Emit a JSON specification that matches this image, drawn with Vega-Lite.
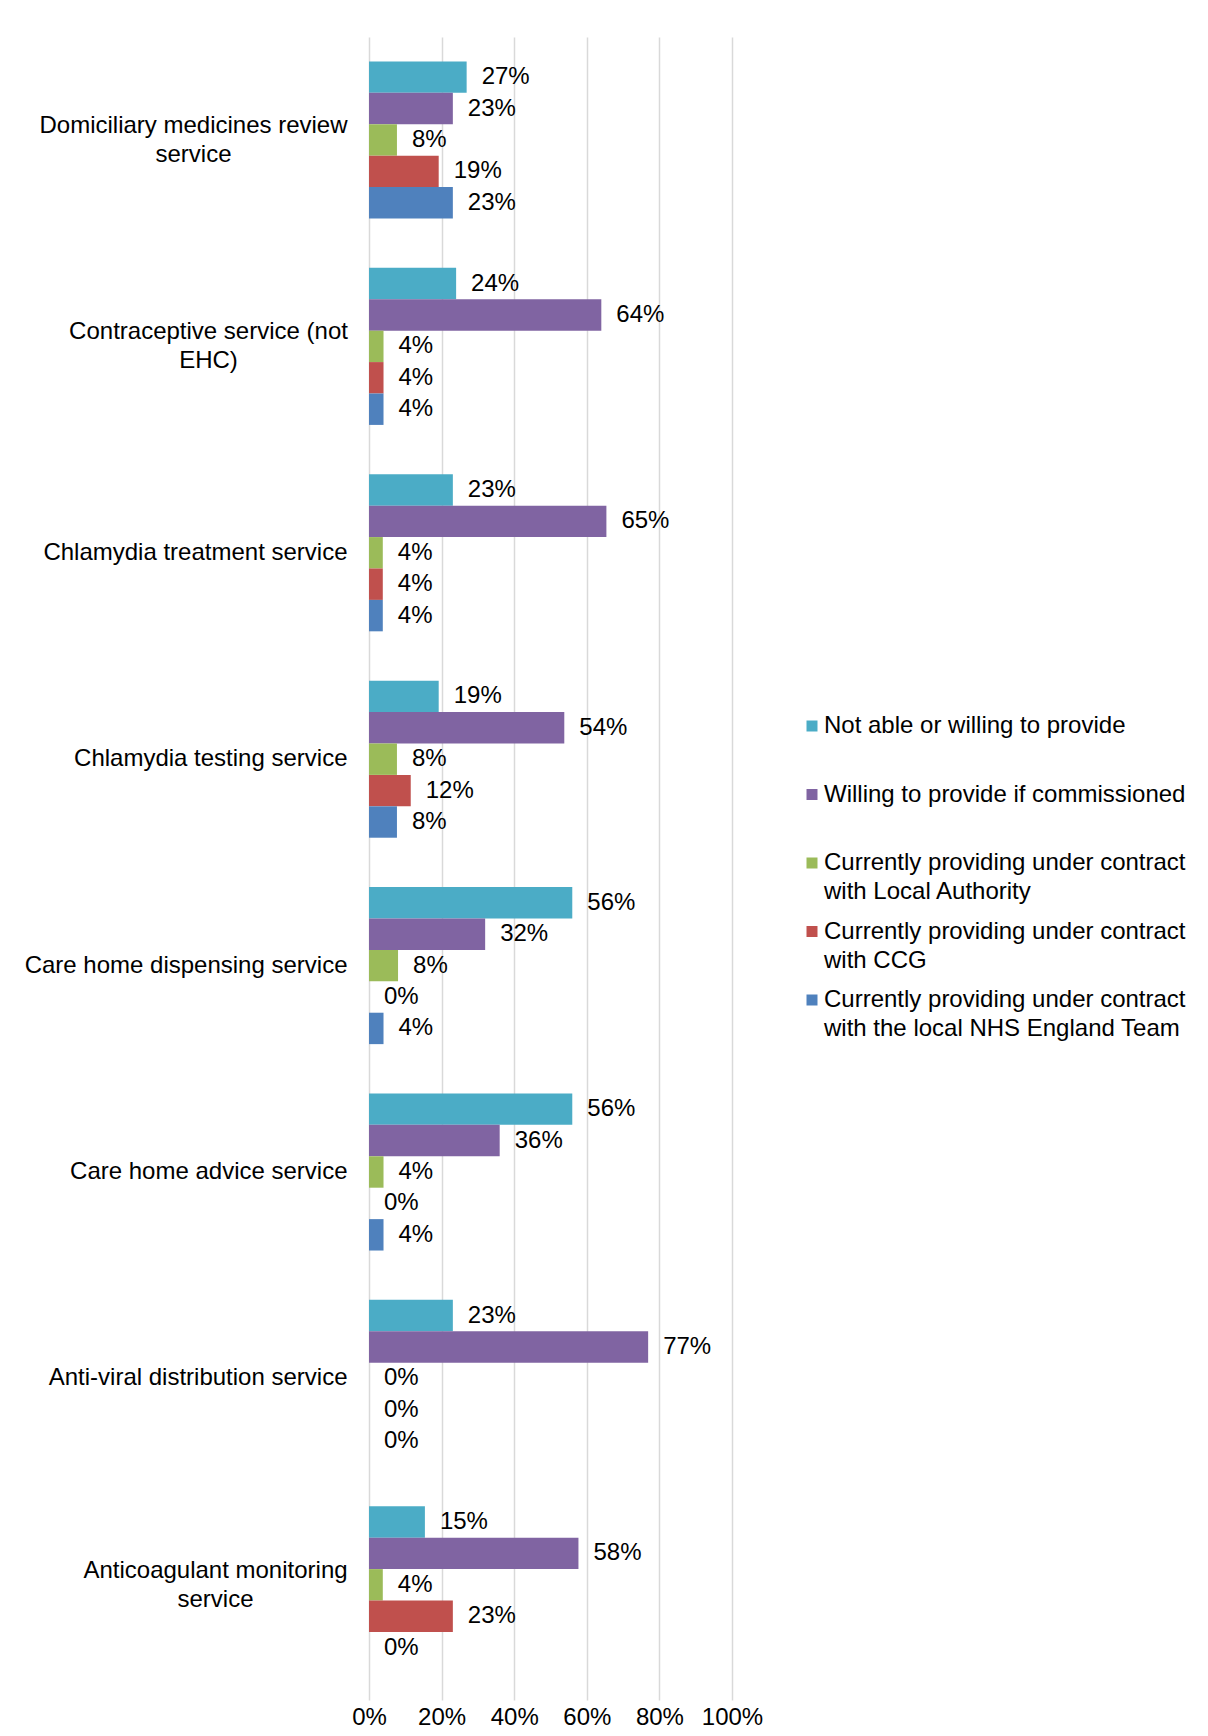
{
  "$schema": "https://vega.github.io/schema/vega-lite/v6.json",
  "autosize": {"type": "none"},
  "width": 363,
  "height": 1663,
  "padding": {"left": 369, "top": 37, "right": 476, "bottom": 36},
  "background": "white",
  "config": {
    "font": "Liberation Sans",
    "view": {"stroke": null}
  },
  "data": {
    "values": [
      {"service": "Domiciliary medicines review service", "status": "Not able or willing to provide", "value": 0.269},
      {"service": "Domiciliary medicines review service", "status": "Willing to provide if commissioned", "value": 0.231},
      {"service": "Domiciliary medicines review service", "status": "Currently providing under contract with Local Authority", "value": 0.077},
      {"service": "Domiciliary medicines review service", "status": "Currently providing under contract with CCG", "value": 0.192},
      {"service": "Domiciliary medicines review service", "status": "Currently providing under contract with the local NHS England Team", "value": 0.231},
      {"service": "Contraceptive service (not EHC)", "status": "Not able or willing to provide", "value": 0.24},
      {"service": "Contraceptive service (not EHC)", "status": "Willing to provide if commissioned", "value": 0.64},
      {"service": "Contraceptive service (not EHC)", "status": "Currently providing under contract with Local Authority", "value": 0.04},
      {"service": "Contraceptive service (not EHC)", "status": "Currently providing under contract with CCG", "value": 0.04},
      {"service": "Contraceptive service (not EHC)", "status": "Currently providing under contract with the local NHS England Team", "value": 0.04},
      {"service": "Chlamydia treatment service", "status": "Not able or willing to provide", "value": 0.231},
      {"service": "Chlamydia treatment service", "status": "Willing to provide if commissioned", "value": 0.654},
      {"service": "Chlamydia treatment service", "status": "Currently providing under contract with Local Authority", "value": 0.038},
      {"service": "Chlamydia treatment service", "status": "Currently providing under contract with CCG", "value": 0.038},
      {"service": "Chlamydia treatment service", "status": "Currently providing under contract with the local NHS England Team", "value": 0.038},
      {"service": "Chlamydia testing service", "status": "Not able or willing to provide", "value": 0.192},
      {"service": "Chlamydia testing service", "status": "Willing to provide if commissioned", "value": 0.538},
      {"service": "Chlamydia testing service", "status": "Currently providing under contract with Local Authority", "value": 0.077},
      {"service": "Chlamydia testing service", "status": "Currently providing under contract with CCG", "value": 0.115},
      {"service": "Chlamydia testing service", "status": "Currently providing under contract with the local NHS England Team", "value": 0.077},
      {"service": "Care home dispensing service", "status": "Not able or willing to provide", "value": 0.56},
      {"service": "Care home dispensing service", "status": "Willing to provide if commissioned", "value": 0.32},
      {"service": "Care home dispensing service", "status": "Currently providing under contract with Local Authority", "value": 0.08},
      {"service": "Care home dispensing service", "status": "Currently providing under contract with CCG", "value": 0},
      {"service": "Care home dispensing service", "status": "Currently providing under contract with the local NHS England Team", "value": 0.04},
      {"service": "Care home advice service", "status": "Not able or willing to provide", "value": 0.56},
      {"service": "Care home advice service", "status": "Willing to provide if commissioned", "value": 0.36},
      {"service": "Care home advice service", "status": "Currently providing under contract with Local Authority", "value": 0.04},
      {"service": "Care home advice service", "status": "Currently providing under contract with CCG", "value": 0},
      {"service": "Care home advice service", "status": "Currently providing under contract with the local NHS England Team", "value": 0.04},
      {"service": "Anti-viral distribution service", "status": "Not able or willing to provide", "value": 0.231},
      {"service": "Anti-viral distribution service", "status": "Willing to provide if commissioned", "value": 0.769},
      {"service": "Anti-viral distribution service", "status": "Currently providing under contract with Local Authority", "value": 0},
      {"service": "Anti-viral distribution service", "status": "Currently providing under contract with CCG", "value": 0},
      {"service": "Anti-viral distribution service", "status": "Currently providing under contract with the local NHS England Team", "value": 0},
      {"service": "Anticoagulant monitoring service", "status": "Not able or willing to provide", "value": 0.154},
      {"service": "Anticoagulant monitoring service", "status": "Willing to provide if commissioned", "value": 0.577},
      {"service": "Anticoagulant monitoring service", "status": "Currently providing under contract with Local Authority", "value": 0.038},
      {"service": "Anticoagulant monitoring service", "status": "Currently providing under contract with CCG", "value": 0.231},
      {"service": "Anticoagulant monitoring service", "status": "Currently providing under contract with the local NHS England Team", "value": 0}
    ]
  },
  "encoding": {
    "y": {
      "field": "service",
      "type": "nominal",
      "sort": null,
      "scale": {"paddingInner": 0.239, "paddingOuter": 0.148, "align": 0.4},
      "axis": {
        "title": null,
        "domain": false,
        "ticks": false,
        "labelFontSize": 24,
        "labelColor": "#000000",
        "labelLimit": 400,
        "labelLineHeight": 29,
        "labelAlign": {"condition": {"test": "datum.value == 'Domiciliary medicines review service' || datum.value == 'Contraceptive service (not EHC)' || datum.value == 'Anticoagulant monitoring service'", "value": "center"}, "value": "right"},
        "labelPadding": {"condition": [
          {"test": "datum.value == 'Domiciliary medicines review service'", "value": 176},
          {"test": "datum.value == 'Contraceptive service (not EHC)'", "value": 161},
          {"test": "datum.value == 'Anticoagulant monitoring service'", "value": 154}
        ], "value": 22},
        "labelOffset": {"condition": {"test": "datum.value == 'Domiciliary medicines review service' || datum.value == 'Contraceptive service (not EHC)' || datum.value == 'Anticoagulant monitoring service'", "value": -14}, "value": 0},
        "labelExpr": "datum.label == 'Domiciliary medicines review service' ? ['Domiciliary medicines review', 'service'] : datum.label == 'Contraceptive service (not EHC)' ? ['Contraceptive service (not', 'EHC)'] : datum.label == 'Anticoagulant monitoring service' ? ['Anticoagulant monitoring', 'service'] : datum.label"
      }
    },
    "yOffset": {
      "field": "status",
      "type": "nominal",
      "sort": ["Not able or willing to provide", "Willing to provide if commissioned", "Currently providing under contract with Local Authority", "Currently providing under contract with CCG", "Currently providing under contract with the local NHS England Team"],
      "scale": {"paddingInner": 0, "paddingOuter": 0}
    },
    "x": {
      "field": "value",
      "type": "quantitative",
      "scale": {"domain": [0, 1], "nice": false},
      "axis": {
        "title": null,
        "format": ".0%",
        "values": [0, 0.2, 0.4, 0.6, 0.8, 1],
        "domain": false,
        "ticks": false,
        "grid": true,
        "gridColor": "#D9D9D9",
        "gridWidth": 1.5,
        "labelFontSize": 24,
        "labelColor": "#000000",
        "labelPadding": 5,
        "labelFlush": false
      }
    }
  },
  "layer": [
    {
      "mark": {"type": "bar"},
      "encoding": {
        "color": {
          "field": "status",
          "type": "nominal",
          "sort": ["Not able or willing to provide", "Willing to provide if commissioned", "Currently providing under contract with Local Authority", "Currently providing under contract with CCG", "Currently providing under contract with the local NHS England Team"],
          "scale": {
            "domain": ["Not able or willing to provide", "Willing to provide if commissioned", "Currently providing under contract with Local Authority", "Currently providing under contract with CCG", "Currently providing under contract with the local NHS England Team"],
            "range": ["#4BACC6", "#8064A2", "#9BBB59", "#C0504D", "#4F81BD"]
          },
          "legend": {
            "title": null,
            "orient": "none",
            "legendX": 431,
            "legendY": 677,
            "padding": 0,
            "symbolType": "square",
            "symbolSize": 121,
            "symbolStrokeWidth": 0,
            "symbolOpacity": 1,
            "labelFontSize": 24,
            "labelColor": "#000000",
            "labelLimit": 500,
            "labelOffset": 0,
            "rowPadding": 15.5,
            "encode": {"labels": {"update": {"lineHeight": {"value": 29}}}},
            "labelExpr": "datum.label == 'Not able or willing to provide' ? ['Not able or willing to provide', ''] : datum.label == 'Willing to provide if commissioned' ? ['Willing to provide if commissioned', ''] : datum.label == 'Currently providing under contract with Local Authority' ? ['Currently providing under contract', 'with Local Authority'] : datum.label == 'Currently providing under contract with CCG' ? ['Currently providing under contract', 'with CCG'] : ['Currently providing under contract', 'with the local NHS England Team']"
          }
        }
      }
    },
    {
      "mark": {"type": "text", "align": "left", "baseline": "middle", "dx": 15, "fontSize": 24, "color": "#000000"},
      "encoding": {
        "text": {"field": "value", "type": "quantitative", "format": ".0%"}
      }
    }
  ]
}
